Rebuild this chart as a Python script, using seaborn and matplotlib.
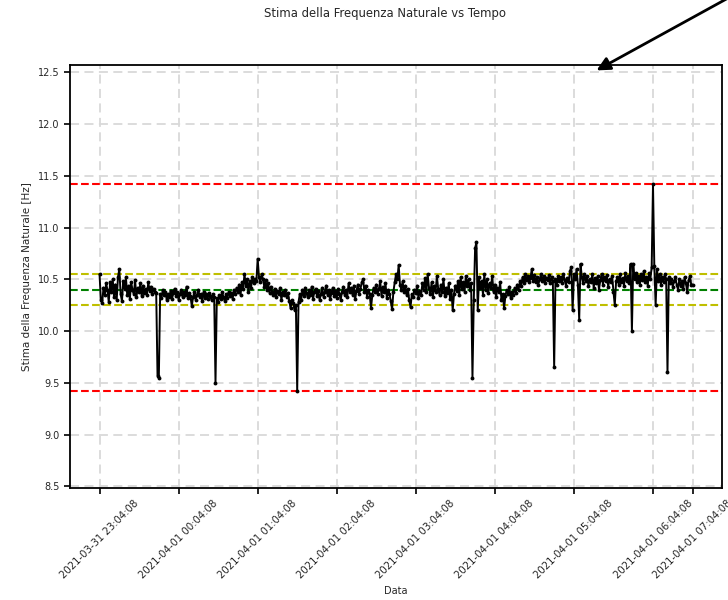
import numpy as np
import pandas as pd
import matplotlib
matplotlib.use("Agg")
import matplotlib.pyplot as plt
import seaborn as sns

# ---- data -------------------------------------------------------------
start_time = "2021-03-31 23:04:08"
sample_step = "1min"

freq_values = [
    10.55, 10.30, 10.27, 10.42, 10.35, 10.46, 10.40, 10.28, 10.47, 10.38,
    10.50, 10.33, 10.45, 10.30, 10.52, 10.60, 10.36, 10.29, 10.48, 10.41,
    10.52, 10.35, 10.44, 10.31, 10.47, 10.40, 10.36, 10.49, 10.33, 10.42,
    10.38, 10.46, 10.34, 10.44, 10.37, 10.41, 10.35, 10.47, 10.39, 10.43,
    10.36, 10.41, 10.38, 10.37, 9.57, 9.55, 10.36, 10.32, 10.40, 10.35,
    10.38, 10.30, 10.36, 10.33, 10.39, 10.31, 10.37, 10.41, 10.34, 10.38,
    10.30, 10.36, 10.40, 10.33, 10.38, 10.35, 10.43, 10.32, 10.37, 10.34,
    10.24, 10.33, 10.38, 10.30, 10.35, 10.40, 10.33, 10.36, 10.29, 10.38,
    10.32, 10.36, 10.31, 10.37, 10.34, 10.30, 10.36, 10.33, 9.50, 10.32,
    10.28, 10.35, 10.31, 10.38, 10.33, 10.29, 10.36, 10.32, 10.38, 10.34,
    10.37, 10.31, 10.40, 10.36, 10.42, 10.38, 10.45, 10.35, 10.47, 10.41,
    10.55, 10.44, 10.50, 10.38, 10.48, 10.42, 10.52, 10.46, 10.50, 10.48,
    10.70, 10.52, 10.47, 10.55, 10.50, 10.43, 10.49, 10.40, 10.46, 10.37,
    10.43, 10.38, 10.35, 10.41, 10.33, 10.39, 10.36, 10.42, 10.30, 10.38,
    10.35, 10.40, 10.33, 10.37, 10.29, 10.22, 10.30, 10.27, 10.20, 10.25,
    9.42, 10.28, 10.36, 10.30, 10.40, 10.34, 10.42, 10.37, 10.33, 10.40,
    10.35, 10.43, 10.31, 10.38, 10.41, 10.34, 10.39, 10.30, 10.36, 10.42,
    10.33, 10.38, 10.44, 10.35, 10.40, 10.31, 10.37, 10.42, 10.34, 10.39,
    10.32, 10.41, 10.36, 10.30, 10.38, 10.43, 10.35, 10.40, 10.33, 10.46,
    10.38, 10.42, 10.35, 10.44, 10.31, 10.39, 10.45, 10.36, 10.41, 10.47,
    10.50, 10.38, 10.44, 10.33, 10.40, 10.36, 10.22, 10.35, 10.42, 10.38,
    10.45, 10.36, 10.41, 10.48, 10.34, 10.43, 10.38, 10.46, 10.32, 10.40,
    10.36, 10.29, 10.21, 10.38, 10.47, 10.55, 10.50, 10.64, 10.45, 10.40,
    10.48, 10.38, 10.44, 10.35, 10.41, 10.30, 10.23, 10.36, 10.33, 10.40,
    10.37, 10.44, 10.32, 10.39, 10.35, 10.46, 10.40, 10.51, 10.38, 10.55,
    10.42, 10.36, 10.47, 10.33, 10.44, 10.38, 10.53, 10.41, 10.35, 10.45,
    10.38, 10.50, 10.34, 10.42, 10.37, 10.46, 10.31, 10.40, 10.20, 10.36,
    10.44, 10.39, 10.48, 10.35, 10.52, 10.41, 10.47, 10.38, 10.53, 10.44,
    10.50, 10.40, 10.46, 9.55, 10.30, 10.80, 10.86, 10.20, 10.52, 10.42,
    10.48, 10.35, 10.55, 10.40, 10.50, 10.37, 10.46, 10.42, 10.53, 10.38,
    10.45, 10.33, 10.42, 10.38, 10.47, 10.30, 10.36, 10.22, 10.34, 10.40,
    10.36, 10.43, 10.32, 10.38, 10.35, 10.42, 10.37, 10.45, 10.40, 10.48,
    10.44, 10.52, 10.46, 10.55, 10.49, 10.53, 10.47, 10.51, 10.60, 10.48,
    10.54, 10.47, 10.52, 10.45, 10.50, 10.55, 10.48, 10.53, 10.46, 10.51,
    10.49, 10.54, 10.46, 10.52, 10.48, 9.65, 10.50, 10.45, 10.53, 10.48,
    10.52, 10.46, 10.55, 10.49, 10.44, 10.51, 10.47, 10.58, 10.62, 10.20,
    10.55, 10.50, 10.60, 10.45, 10.11, 10.65, 10.52, 10.46, 10.55, 10.48,
    10.53, 10.44, 10.50, 10.47, 10.55, 10.42, 10.51, 10.46, 10.53, 10.40,
    10.49, 10.55, 10.45, 10.52, 10.48, 10.54, 10.43, 10.50, 10.47, 10.53,
    10.38, 10.25, 10.48, 10.52, 10.45, 10.55, 10.47, 10.51, 10.44, 10.56,
    10.48, 10.53, 10.46, 10.65, 10.00, 10.65, 10.50, 10.56, 10.47, 10.53,
    10.45, 10.55, 10.49, 10.58, 10.47, 10.52, 10.44, 10.56, 10.50, 10.62,
    11.42, 10.63, 10.25, 10.60, 10.48, 10.55, 10.45, 10.52, 10.47, 10.55,
    10.50, 9.60, 10.52, 10.46, 10.50, 10.43, 10.48, 10.52, 10.45, 10.40,
    10.50, 10.44, 10.48, 10.41, 10.52, 10.46, 10.38, 10.49, 10.53, 10.45,
    10.45,
]

mean_level = [10.40]
band_levels = [10.55, 10.25]

tick_times = [
    "2021-03-31 23:04:08", "2021-04-01 00:04:08", "2021-04-01 01:04:08",
    "2021-04-01 02:04:08", "2021-04-01 03:04:08", "2021-04-01 04:04:08",
    "2021-04-01 05:04:08", "2021-04-01 06:04:08", "2021-04-01 06:34:08",
]
tick_labels = [
    "2021-03-31 23:04:08", "2021-04-01 00:04:08", "2021-04-01 01:04:08",
    "2021-04-01 02:04:08", "2021-04-01 03:04:08", "2021-04-01 04:04:08",
    "2021-04-01 05:04:08", "2021-04-01 06:04:08", "2021-04-01 07:04:08",
]
y_ticks = [8.5, 9.0, 9.5, 10.0, 10.5, 11.0, 11.5, 12.0, 12.5]

title = "Stima della Frequenza Naturale vs Tempo"
ylabel = "Stima della Frequenza Naturale [Hz]"
xlabel = "Data"

# ---- build table ------------------------------------------------------
times = pd.date_range(start_time, periods=len(freq_values), freq=sample_step)
df = pd.DataFrame({"Data": times, "Freq": freq_values})

sns.set_style("white")
plt.rcParams["font.family"] = ["DejaVu Sans"]

fig = plt.figure(figsize=(7.28, 6.0), dpi=100)
ax = fig.add_axes([0.096, 0.187, 0.896, 0.705])

grid_kw = dict(color="#d9d9d9", linestyle=(0, (5, 3)), linewidth=1.3, zorder=0)
ax.grid(True, **grid_kw)
ax.set_axisbelow(True)

sns.lineplot(data=df, x="Data", y="Freq", ax=ax, color="black",
             linewidth=1.4, marker="o", markersize=2.8, markeredgewidth=0,
             zorder=3)

fmax = max(freq_values)
fmin = min(freq_values)
ax.axhline(fmax, color="red", linestyle="--", linewidth=1.5, zorder=2)
ax.axhline(fmin, color="red", linestyle="--", linewidth=1.5, zorder=2)
ax.axhline(mean_level[0], color="green", linestyle="--", linewidth=1.5, zorder=2)
for b in band_levels:
    ax.axhline(b, color="y", linestyle="--", linewidth=1.5, zorder=2)

ax.set_ylim(8.485, 12.574)
ax.set_yticks(y_ticks)
ax.set_yticklabels([f"{v:.1f}" for v in y_ticks], fontsize=7)
tt = pd.to_datetime(tick_times)
ax.set_xticks(tt)
ax.set_xticklabels(tick_labels, rotation=45, ha="center", fontsize=7.3)
ax.tick_params(axis="both", direction="out", length=4, width=1.2,
               color="black", bottom=True, left=True)

for s in ax.spines.values():
    s.set_color("black")
    s.set_linewidth(1.3)

ax.set_xlabel(xlabel, fontsize=7)
ax.set_ylabel(ylabel, fontsize=7.5)
fig.text(0.529, 0.977, title, ha="center", va="center", fontsize=8.4)

# arrow annotation from outside the figure
tip_x = pd.Timestamp("2021-04-01 05:21:16")
ax.annotate("", xy=(tip_x, 12.52), xycoords="data",
            xytext=(770, 625), textcoords="figure pixels",
            arrowprops=dict(arrowstyle="-|>", color="black", lw=2,
                            mutation_scale=20, shrinkA=0, shrinkB=0),
            annotation_clip=False)

fig.savefig("out.png", dpi=100)
